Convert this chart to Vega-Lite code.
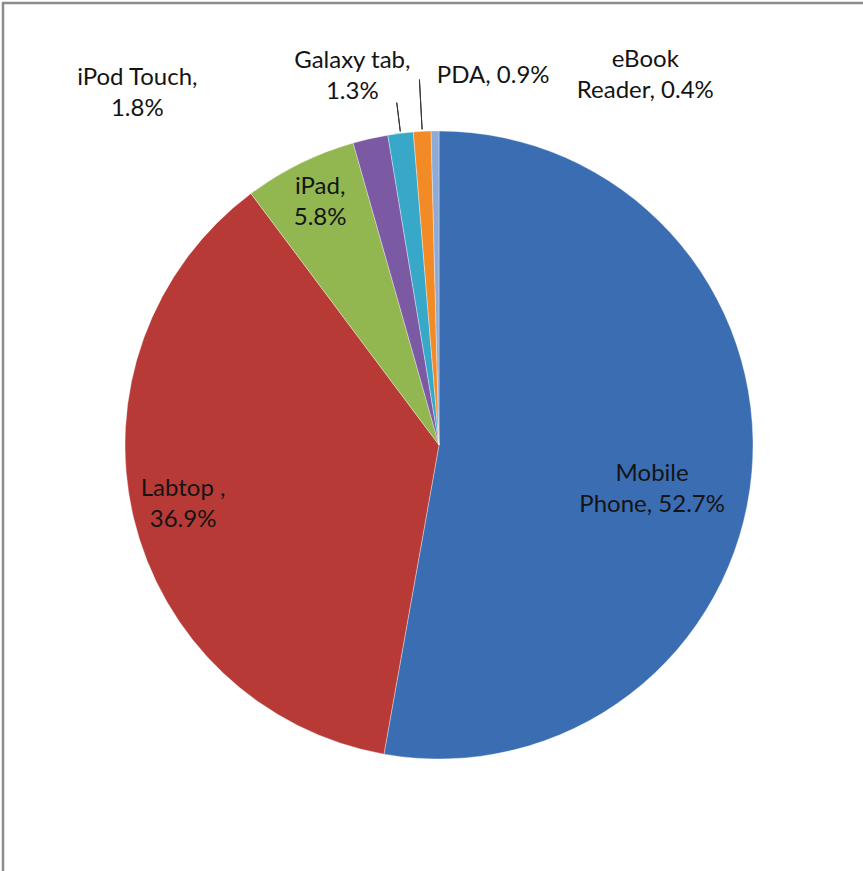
{
  "$schema": "https://vega.github.io/schema/vega-lite/v6.json",
  "autosize": {"type": "none"},
  "width": 872,
  "height": 884,
  "padding": {"left": 3, "top": 3, "right": -12, "bottom": -16},
  "background": "white",
  "view": {"stroke": "#8c8c8c", "strokeWidth": 2.5, "fill": "white"},
  "config": {
    "text": {"font": "Lato", "fontSize": 24, "fill": "#141414", "lineBreak": "\n", "lineHeight": 31, "baseline": "middle", "align": "center"}
  },
  "data": {
    "values": [
      {"idx": 1, "device": "Mobile Phone", "share": 52.7, "label": "Mobile\nPhone, 52.7%"},
      {"idx": 2, "device": "Labtop", "share": 36.9, "label": "Labtop ,\n36.9%"},
      {"idx": 3, "device": "iPad", "share": 5.8, "label": "iPad,\n5.8%"},
      {"idx": 4, "device": "iPod Touch", "share": 1.8, "label": "iPod Touch,\n1.8%"},
      {"idx": 5, "device": "Galaxy tab", "share": 1.3, "label": "Galaxy tab,\n1.3%"},
      {"idx": 6, "device": "PDA", "share": 0.9, "label": "PDA, 0.9%"},
      {"idx": 7, "device": "eBook Reader", "share": 0.4, "label": "eBook\nReader, 0.4%"}
    ]
  },
  "encoding": {
    "theta": {"field": "share", "type": "quantitative", "stack": true},
    "order": {"field": "idx", "type": "quantitative"},
    "detail": {"field": "device", "type": "nominal"}
  },
  "layer": [
    {
      "mark": {"type": "arc", "outerRadius": 314, "stroke": "#ffffff", "strokeOpacity": 0.35, "strokeWidth": 1},
      "encoding": {
        "color": {
          "field": "device",
          "type": "nominal",
          "legend": null,
          "scale": {
            "domain": ["Mobile Phone", "Labtop", "iPad", "iPod Touch", "Galaxy tab", "PDA", "eBook Reader"],
            "range": ["#3b6db3", "#b83a37", "#92b650", "#7b5aa3", "#38a8c9", "#f28a26", "#8eaad6"]
          }
        }
      }
    },
    {
      "mark": {"type": "arc", "radius": 345, "radius2": 316, "padAngle": 3, "filled": false, "stroke": "#333333", "strokeWidth": 1},
      "encoding": {
        "opacity": {"condition": {"test": "datum.device === 'Galaxy tab'", "value": 1}, "value": 0}
      }
    },
    {
      "mark": {"type": "arc", "radius": 366, "radius2": 316, "padAngle": 3, "filled": false, "stroke": "#333333", "strokeWidth": 1},
      "encoding": {
        "opacity": {"condition": {"test": "datum.device === 'PDA'", "value": 1}, "value": 0}
      }
    },
    {
      "mark": {"type": "text", "radius": 218, "dx": -4, "dy": 10},
      "encoding": {"text": {"condition": {"test": "datum.device === 'Mobile Phone'", "field": "label", "type": "nominal"}, "value": ""}}
    },
    {
      "mark": {"type": "text", "radius": 263, "dy": -17},
      "encoding": {"text": {"condition": {"test": "datum.device === 'Labtop'", "field": "label", "type": "nominal"}, "value": ""}}
    },
    {
      "mark": {"type": "text", "radius": 268, "dy": -18},
      "encoding": {"text": {"condition": {"test": "datum.device === 'iPad'", "field": "label", "type": "nominal"}, "value": ""}}
    },
    {
      "mark": {"type": "text", "radius": 360, "dx": -223, "dy": -16},
      "encoding": {"text": {"condition": {"test": "datum.device === 'iPod Touch'", "field": "label", "type": "nominal"}, "value": ""}}
    },
    {
      "mark": {"type": "text", "radius": 373, "dx": -41, "dy": -14},
      "encoding": {"text": {"condition": {"test": "datum.device === 'Galaxy tab'", "field": "label", "type": "nominal"}, "value": ""}}
    },
    {
      "mark": {"type": "text", "radius": 370, "dx": 74},
      "encoding": {"text": {"condition": {"test": "datum.device === 'PDA'", "field": "label", "type": "nominal"}, "value": ""}}
    },
    {
      "mark": {"type": "text", "radius": 373, "dx": 211, "dy": -12},
      "encoding": {"text": {"condition": {"test": "datum.device === 'eBook Reader'", "field": "label", "type": "nominal"}, "value": ""}}
    }
  ]
}
